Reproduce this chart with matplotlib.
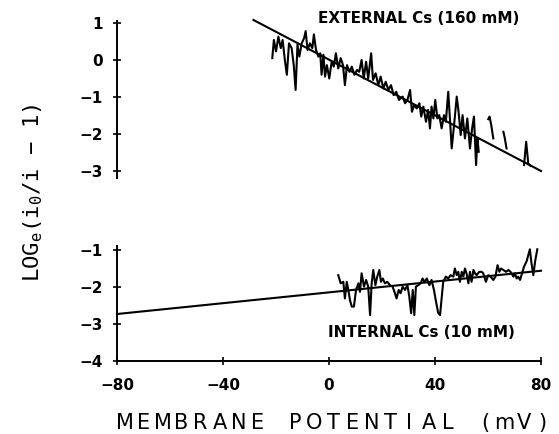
import numpy as np
import matplotlib
matplotlib.use("Agg")
import matplotlib.pyplot as plt

plt.rcParams['mathtext.fontset'] = 'custom'
plt.rcParams['mathtext.rm'] = 'DejaVu Sans Mono'
plt.rcParams['mathtext.it'] = 'DejaVu Sans Mono'

nan = np.nan

# external Cs (160 mM) trace, mV vs loge(i0/i - 1)
ext_mv = [-21.4, -20.8, -20.0, -19.1, -18.2, -17.5, -16.6, -15.9, -15.1, -14.1,
          -13.3, -12.6, -11.9, -11.2, -10.3, -9.4, -8.8, -8.1, -7.2, -6.3,
          -5.7, -4.9, -4.0, -3.3, -2.8, -2.1, -1.5, -0.8, 0.1, 1.0,
          1.8, 2.6, 3.5, 4.4, 5.3, 6.0, 6.8, 7.7, 8.6, 9.6,
          10.6, 11.4, 12.3, 13.1, 14.0, 14.8, 15.9, 16.6, 17.6, 18.6,
          19.5, 20.5, 21.4, 22.4, 23.4, 24.4, 25.4, 26.4,
          27.8, 28.7, 29.6, 30.6, 31.3, 32.1, 33.1, 34.1, 34.8, 35.6,
          36.6, 37.4, 38.1, 38.7, 39.4, 40.1, 40.9, 41.6, 42.5, 43.4,
          44.1, 45.0, 45.7, 46.3, 47.2, 48.2, 48.9, 49.7, 50.4, 51.3,
          52.2, 53.2, 54.0, 54.7, 55.5, 56.0, 56.5,
          nan, 60.1, 60.6, 61.2, 62.0,
          nan, 65.8, 66.3, 67.0,
          nan, 73.6, 74.4, 75.2, 76.0]
ext_val = [0.05, 0.54, 0.23, 0.63, 0.32, 0.54, -0.04, -0.40, 0.45, 0.32,
           -0.14, -0.81, 0.41, 0.09, 0.45, 0.59, 0.78, 0.27, 0.45, 0.32,
           0.69, 0.27, 0.09, 0.18, -0.40, 0.14, -0.45, -0.14, -0.50, -0.05,
           -0.18, 0.18, -0.23, 0.05, -0.14, -0.68, -0.14, -0.32, -0.18, -0.40,
           -0.27, -0.32, 0.0, -0.50, -0.05, -0.50, 0.18, -0.54, -0.36, -0.68,
           -0.45, -0.77, -0.59, -0.81, -0.68, -0.95, -0.86, -1.08,
           -0.99, -1.17, -1.08, -0.81, -1.40, -1.22, -1.31, -1.17, -1.53, -1.26,
           -1.67, -1.35, -1.85, -1.26, -1.58, -1.08, -1.58, -1.49, -1.85, -1.49,
           -1.67, -0.86, -1.67, -2.39, -1.76, -0.99, -1.40, -2.03, -1.49, -2.12,
           -1.58, -2.39, -1.85, -1.53, -2.84, -2.12, -2.48,
           nan, -1.60, -1.53, -1.75, -2.12,
           nan, -1.94, -2.10, -2.39,
           nan, -2.84, -2.21, -2.80, -2.86]
ext_fit_mv = [-28.5, 80]
ext_fit_val = [1.08, -3.0]

# internal Cs (10 mM) trace
int_mv = [3.5, 4.4, 5.4, 6.0, 6.7, 7.3, 7.9, 8.6, 9.4, 10.2,
          11.1, 11.7, 12.3, 13.2, 14.0, 14.8, 15.5, 16.1, 16.7, 17.5,
          18.2, 19.0, 19.6, 20.3, 21.1, 22.0, 23.0, 24.0, 24.9, 25.5,
          26.3, 27.0, 27.8, 28.7, 29.6, 30.3, 31.0, 31.6, 32.2, 32.8,
          33.7, 34.6, 35.3, 36.0, 36.9, 37.9, 38.7, 39.6, 40.4, 41.2,
          41.9, 43.1, 44.1, 45.0, 45.9, 46.9, 47.5, 48.2, 48.8, 49.4,
          50.1, 50.7, 51.3, 51.9, 52.6, 53.2, 53.8, 54.5, 55.1, 55.7,
          56.7, 57.6, 58.2, 59.2, 60.1, 61.0, 62.0, 62.8, 63.6, 64.3,
          64.9, 65.8, 66.8, 67.7, 68.5, 69.6, 70.2, 70.8, 71.4, 72.1,
          73.6, 74.6, 75.8, 76.4, 77.1, 77.8, 78.6]
int_val = [-1.68, -1.90, -1.86, -2.31, -1.86, -2.08, -2.35, -2.53, -2.53, -2.08,
           -1.90, -2.13, -1.63, -1.99, -1.81, -1.99, -2.76, -1.90, -1.54, -1.95,
           -1.72, -1.54, -1.86, -1.77, -1.90, -1.86, -1.95, -1.99, -2.17, -2.31,
           -2.08, -2.17, -1.99, -2.08, -1.95, -2.26, -2.71, -2.08, -2.76, -1.99,
           -1.95, -1.90, -1.77, -1.86, -1.77, -1.95, -1.81, -2.08, -2.40, -2.70,
           -2.76, -1.86, -1.72, -1.77, -1.68, -1.72, -1.50, -1.68, -1.59, -1.86,
           -1.59, -1.72, -1.50, -1.63, -1.90, -1.59, -1.86, -1.54, -1.63, -1.68,
           -1.59, -1.59, -1.63, -1.86, -1.68, -1.72, -1.81, -1.72, -1.41, -1.59,
           -1.50, -1.54, -1.59, -1.54, -1.59, -1.72, -1.63, -1.77, -1.72, -1.81,
           -1.45, -1.30, -0.98, -1.35, -1.68, -1.30, -0.98]
int_fit_mv = [-80, 80]
int_fit_val = [-2.73, -1.56]

x_ticks = [-80, -40, 0, 40, 80]
ext_yticks = [1, 0, -1, -2, -3]
int_yticks = [-1, -2, -3, -4]

MINUS = '\u2212'


def tick_text(v):
    return str(v) if v >= 0 else MINUS + str(-v)


W, H = 559, 434
fig = plt.figure(figsize=(W / 100, H / 100), dpi=100)
ax1 = fig.add_axes([117 / W, (H - 178.4) / H, 424 / W, 157.3 / H])
ax2 = fig.add_axes([117 / W, 73 / H, 424 / W, 114.7 / H])

tick_font = dict(fontsize=11, fontweight='bold')

for ax in (ax1, ax2):
    ax.set_xlim(-80, 80)
    for s in ('top', 'right'):
        ax.spines[s].set_visible(False)
    for s in ('left', 'bottom'):
        ax.spines[s].set_linewidth(1.4)
    ax.tick_params(direction='inout', length=6, width=1.2, color='black')
    ax.tick_params(axis='y', pad=7)
    ax.tick_params(axis='x', pad=9)

# upper panel
ax1.set_ylim(-3.2, 1.05)
ax1.spines['bottom'].set_visible(False)
ax1.set_xticks([])
ax1.set_yticks(ext_yticks)
ax1.set_yticklabels([tick_text(v) for v in ext_yticks], **tick_font)
ax1.plot(ext_mv, ext_val, color='black', lw=1.5, clip_on=False)
ax1.plot(ext_fit_mv, ext_fit_val, color='black', lw=1.5, clip_on=False)
ax1.text(34, 1.11, 'EXTERNAL Cs (160 mM)', ha='center', va='center',
         fontsize=11, fontweight='bold')

# lower panel
ax2.set_ylim(-4, -0.9)
ax2.set_yticks(int_yticks)
ax2.set_yticklabels([tick_text(v) for v in int_yticks], **tick_font)
ax2.set_xticks(x_ticks)
ax2.set_xticklabels([tick_text(v) for v in x_ticks], **tick_font)
ax2.plot(int_mv, int_val, color='black', lw=1.5, clip_on=False)
ax2.plot(int_fit_mv, int_fit_val, color='black', lw=1.5, clip_on=False)
ax2.text(34.7, -3.24, 'INTERNAL Cs (10 mM)', ha='center', va='center',
         fontsize=11, fontweight='bold')

# x label, one character per cell for the wide plotter spacing
xlabel = 'MEMBRANE POTENTIAL (mV)'
for i, ch in enumerate(xlabel):
    fig.text((124.5 + 19 * i) / W, (H - 423) / H, ch, ha='center', va='center',
             fontsize=15)

ylabel = r'LOG$_\mathrm{e}$(i$_\mathrm{0}$/i ' + MINUS + ' 1)'
fig.text(33 / W, (H - 193) / H, ylabel, rotation=90, ha='center', va='center',
         fontsize=16, family='DejaVu Sans Mono')

fig.savefig('out.png', dpi=100)
